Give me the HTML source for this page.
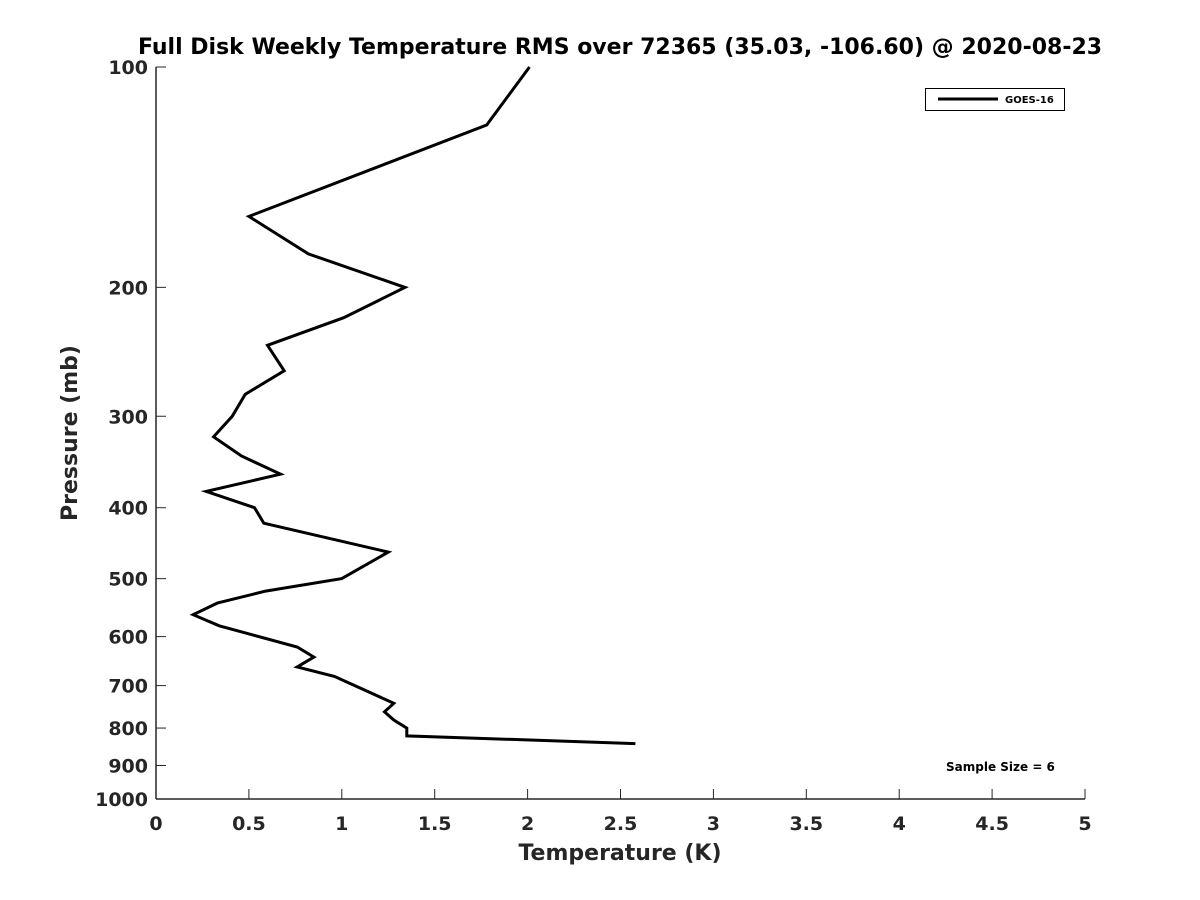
<!DOCTYPE html>
<html><head><meta charset="utf-8"><style>
body{margin:0;background:#fff;}
svg{display:block;font-family:"DejaVu Sans","Liberation Sans",sans-serif;}
</style></head><body>
<svg id="chart" width="1200" height="900" viewBox="0 0 1200 900">
<rect width="1200" height="900" fill="#fff"/>
<text x="620" y="54" text-anchor="middle" font-size="22" font-weight="bold" fill="#000">Full Disk Weekly Temperature RMS over 72365 (35.03, -106.60) @ 2020-08-23</text>
<g id="axes"></g>
<path id="series" fill="none" stroke="#000" stroke-width="3" stroke-linejoin="miter"/>
<g>
<rect x="925.5" y="88.5" width="139" height="22" fill="#fff" stroke="#000" stroke-width="1"/>
<line x1="938" y1="99" x2="998" y2="99" stroke="#000" stroke-width="3"/>
<text x="1005" y="103" font-size="10" font-weight="bold">GOES-16</text>
</g>
<text x="946" y="771" font-size="12" font-weight="bold">Sample Size = 6</text>
<text x="620" y="860" text-anchor="middle" font-size="22" font-weight="bold" fill="#262626">Temperature (K)</text>
<text transform="translate(77,433) rotate(-90)" text-anchor="middle" font-size="22" font-weight="bold" fill="#262626">Pressure (mb)</text>
</svg>
<script>
const temps=[2.01,1.78,0.50,0.82,1.34,1.01,0.60,0.69,0.48,0.41,0.31,0.46,0.67,0.27,0.53,0.58,1.25,1.00,0.59,0.33,0.20,0.34,0.76,0.85,0.76,0.96,1.07,1.28,1.23,1.28,1.35,1.35,2.58];
const pressures=[100,120,160,180,200,220,240,260,280,300,320,340,360,380,400,420,460,500,520,540,560,580,620,640,660,680,700,740,760,780,800,820,840];
const xTicks=[0,0.5,1,1.5,2,2.5,3,3.5,4,4.5,5];
const yTicks=[100,200,300,400,500,600,700,800,900,1000];
const X0=156,X1=1085,Y0=67,Y1=799;
function xs(v){return X0+(v-0)/(5-0)*(X1-X0);}
function ys(p){return Y0+Math.log10(p/100)/Math.log10(10)*(Y1-Y0);}
const NS="http://www.w3.org/2000/svg";
const axes=document.getElementById('axes');
function mk(t,a){const e=document.createElementNS(NS,t);for(const k in a)e.setAttribute(k,a[k]);axes.appendChild(e);return e;}
let l=mk('line',{x1:X0,y1:Y1,x2:X1,y2:Y1,stroke:'#262626','stroke-width':1.5});


l=mk('line',{x1:X0,y1:Y0,x2:X0,y2:Y1,stroke:'#262626','stroke-width':1.5});


xTicks.forEach(v=>{const x=xs(v);
 mk('line',{x1:x,y1:Y1,x2:x,y2:Y1-10,stroke:'#262626','stroke-width':1});
 const t=mk('text',{x:x,y:Y1+31,'text-anchor':'middle','font-size':19,'font-weight':'bold',fill:'#262626'});
 t.textContent=String(v);
 
 });
yTicks.forEach(p=>{const y=ys(p);
 mk('line',{x1:X0,y1:y,x2:X0+10,y2:y,stroke:'#262626','stroke-width':1});
 const t=mk('text',{x:X0-8,y:y+7,'text-anchor':'end','font-size':19,'font-weight':'bold',fill:'#262626'});
 t.textContent=String(p);
 
 });
document.getElementById('series').setAttribute('d',temps.map((v,i)=>(i?'L':'M')+xs(v).toFixed(1)+' '+ys(pressures[i]).toFixed(1)).join(' '));
</script>
</body></html>
